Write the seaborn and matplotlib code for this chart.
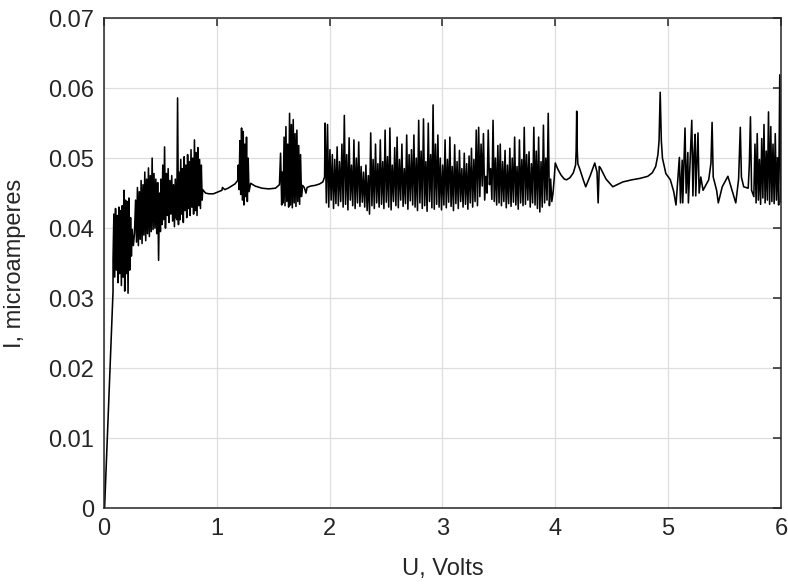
import numpy as np
import pandas as pd
import seaborn as sns
import matplotlib
matplotlib.use("Agg")
import matplotlib.pyplot as plt

# --- data (U in volts, I in microamperes) ---

# initial rise from the origin
rise_u = [0.005, 0.08]
rise_i = [0.0, 0.031]

# dense oscillation bands: (u_start, u_end) + values sampled evenly across the span
band_a_span = (0.08, 0.25)
band_a_i = [0.0355, 0.0420, 0.0330, 0.0428, 0.0340, 0.0418, 0.0322, 0.0430, 0.0335, 0.0425,
            0.0318, 0.0432, 0.0330, 0.0454, 0.0310, 0.0440, 0.0335, 0.0438, 0.0307, 0.0443,
            0.0340, 0.0415, 0.0360, 0.0398]

dip_u = [0.26, 0.27]
dip_i = [0.0375, 0.0392]

band_b1_span = (0.28, 0.50)
band_b1_i = [0.0440, 0.0380, 0.0458, 0.0375, 0.0452, 0.0384, 0.0468, 0.0378, 0.0462, 0.0390,
             0.0480, 0.0382, 0.0470, 0.0392, 0.0486, 0.0388, 0.0475, 0.0395, 0.0500, 0.0398,
             0.0478, 0.0400, 0.0470, 0.0392, 0.0465, 0.0354, 0.0450, 0.0395]

band_b2_span = (0.505, 0.64)
band_b2_i = [0.0470, 0.0405, 0.0490, 0.0412, 0.0516, 0.0400, 0.0478, 0.0418, 0.0485, 0.0408,
             0.0468, 0.0420, 0.0475, 0.0410, 0.0462, 0.0402, 0.0470, 0.0415]

spike1_u = [0.645, 0.652, 0.66]
spike1_i = [0.0412, 0.0586, 0.0405]

band_b3_span = (0.665, 0.87)
band_b3_i = [0.0480, 0.0412, 0.0498, 0.0420, 0.0485, 0.0408, 0.0502, 0.0425, 0.0490, 0.0415,
             0.0505, 0.0428, 0.0495, 0.0418, 0.0512, 0.0430, 0.0500, 0.0420, 0.0526, 0.0425,
             0.0508, 0.0418, 0.0515, 0.0432, 0.0498, 0.0428, 0.0490, 0.0440]

smooth1_u = [0.875, 0.90, 0.93, 0.97, 1.00, 1.03, 1.045, 1.05, 1.07, 1.10, 1.13, 1.16, 1.185]
smooth1_i = [0.0455, 0.0450, 0.0449, 0.0449, 0.0451, 0.0453, 0.0454, 0.0458, 0.0455, 0.0457,
             0.0460, 0.0463, 0.0468]

band_c_span = (1.19, 1.285)
band_c_i = [0.0490, 0.0455, 0.0525, 0.0448, 0.0543, 0.0440, 0.0538, 0.0433, 0.0520, 0.0445,
            0.0530, 0.0438, 0.0500, 0.0452]

smooth2_u = [1.30, 1.34, 1.40, 1.46, 1.52, 1.555, 1.565, 1.575]
smooth2_i = [0.0464, 0.0460, 0.0457, 0.0456, 0.0457, 0.0462, 0.0507, 0.0433]

band_d_span = (1.58, 1.75)
band_d_i = [0.0480, 0.0436, 0.0530, 0.0432, 0.0545, 0.0438, 0.0520, 0.0430, 0.0564, 0.0433,
            0.0548, 0.0429, 0.0555, 0.0436, 0.0535, 0.0431, 0.0540, 0.0438, 0.0518, 0.0434,
            0.0505, 0.0445]

smooth3_u = [1.76, 1.775, 1.79, 1.80, 1.83, 1.87, 1.91, 1.94, 1.955]
smooth3_i = [0.0461, 0.0458, 0.0450, 0.0458, 0.0460, 0.0461, 0.0463, 0.0466, 0.0473]

band_e_span = (1.96, 3.98)
band_e_i = [
    0.0550, 0.0436, 0.0548, 0.0430, 0.0512, 0.0440, 0.0505, 0.0428, 0.0498, 0.0435, 0.0516, 0.0432,
    0.0495, 0.0438, 0.0520, 0.0430, 0.0561, 0.0434, 0.0505, 0.0426, 0.0529, 0.0440, 0.0490, 0.0432,
    0.0526, 0.0428, 0.0500, 0.0436, 0.0523, 0.0431, 0.0488, 0.0437,
    0.0480, 0.0430, 0.0490, 0.0425, 0.0475, 0.0420, 0.0536, 0.0432, 0.0498, 0.0428, 0.0520, 0.0436,
    0.0492, 0.0430,
    0.0526, 0.0434, 0.0495, 0.0428, 0.0540, 0.0437, 0.0502, 0.0430, 0.0543, 0.0426, 0.0490, 0.0438,
    0.0515, 0.0432, 0.0530, 0.0429, 0.0498, 0.0440, 0.0520, 0.0431, 0.0485, 0.0435, 0.0533, 0.0427,
    0.0505, 0.0439, 0.0512, 0.0433,
    0.0533, 0.0430, 0.0500, 0.0425, 0.0554, 0.0436, 0.0510, 0.0428, 0.0556, 0.0432, 0.0495, 0.0424,
    0.0550, 0.0438, 0.0505, 0.0429, 0.0576, 0.0427, 0.0520, 0.0434, 0.0533, 0.0430,
    0.0500, 0.0426, 0.0490, 0.0433, 0.0526, 0.0429, 0.0498, 0.0437, 0.0530, 0.0431, 0.0488, 0.0425,
    0.0519, 0.0435, 0.0495, 0.0428, 0.0511, 0.0438, 0.0485, 0.0430, 0.0507, 0.0434, 0.0492, 0.0427,
    0.0503,
    0.0436, 0.0514, 0.0430, 0.0498, 0.0438, 0.0540, 0.0432, 0.0544, 0.0445, 0.0520, 0.0460, 0.0535,
    0.0440, 0.0474, 0.0450, 0.0540, 0.0462, 0.0485, 0.0441, 0.0554, 0.0438, 0.0500, 0.0433, 0.0518,
    0.0436,
    0.0520, 0.0432, 0.0495, 0.0438, 0.0511, 0.0429, 0.0490, 0.0435, 0.0514, 0.0431, 0.0500, 0.0437,
    0.0530, 0.0433, 0.0488, 0.0427, 0.0526, 0.0436, 0.0498, 0.0432, 0.0544, 0.0434, 0.0505, 0.0440,
    0.0509, 0.0430, 0.0492, 0.0436,
    0.0544, 0.0433, 0.0510, 0.0428, 0.0530, 0.0423, 0.0495, 0.0430, 0.0547, 0.0436, 0.0500, 0.0440,
    0.0564, 0.0432, 0.0470, 0.0438, 0.0450,
]

# resonance peaks between 4 and 5 V
peaks_u = [3.99, 4.00, 4.02, 4.05, 4.08, 4.10, 4.13, 4.16, 4.18, 4.185, 4.19, 4.195, 4.20, 4.22,
           4.25, 4.27, 4.31, 4.35, 4.37, 4.38, 4.39, 4.40, 4.45, 4.51, 4.56, 4.60, 4.68, 4.75,
           4.82, 4.86, 4.89, 4.91, 4.92, 4.93, 4.94, 4.95, 4.98, 5.02, 5.05, 5.07]
peaks_i = [0.0470, 0.0493, 0.0485, 0.0476, 0.0470, 0.0469, 0.0472, 0.0479, 0.0490, 0.0510,
           0.0567, 0.0510, 0.0492, 0.0483, 0.0468, 0.0459, 0.0475, 0.0493, 0.0480, 0.0436,
           0.0488, 0.0486, 0.0470, 0.0459, 0.0463, 0.0466, 0.0469, 0.0471, 0.0474, 0.0479,
           0.0488, 0.0505, 0.0525, 0.0594, 0.0525, 0.0500, 0.0478, 0.0469, 0.0452, 0.0433]

band_f_u = [5.10, 5.11, 5.125, 5.13, 5.15, 5.16, 5.175, 5.18, 5.21, 5.22, 5.23, 5.24, 5.245,
            5.265, 5.275, 5.29, 5.31, 5.36, 5.38, 5.39, 5.40, 5.43, 5.445, 5.48, 5.53, 5.60,
            5.625, 5.64, 5.65, 5.67, 5.71, 5.72, 5.73, 5.74]
band_f_i = [0.0501, 0.0436, 0.0497, 0.0436, 0.0543, 0.0450, 0.0508, 0.0436, 0.0554, 0.0446,
            0.0508, 0.0534, 0.0446, 0.0536, 0.0450, 0.0473, 0.0454, 0.0469, 0.0493, 0.0551,
            0.0473, 0.0454, 0.0436, 0.0459, 0.0474, 0.0436, 0.0470, 0.0544, 0.0473, 0.0459,
            0.0457, 0.0490, 0.0559, 0.0454]

band_g_span = (5.76, 6.0)
band_g_i = [0.0445, 0.0520, 0.0436, 0.0535, 0.0440, 0.0498, 0.0434, 0.0528, 0.0443, 0.0548,
            0.0436, 0.0510, 0.0440, 0.0566, 0.0434, 0.0545, 0.0438, 0.0520, 0.0435, 0.0535,
            0.0440, 0.0500, 0.0433, 0.0619, 0.0437]


def band(span, vals):
    return list(np.linspace(span[0], span[1], len(vals))), list(vals)


pieces = [
    (rise_u, rise_i),
    band(band_a_span, band_a_i),
    (dip_u, dip_i),
    band(band_b1_span, band_b1_i),
    band(band_b2_span, band_b2_i),
    (spike1_u, spike1_i),
    band(band_b3_span, band_b3_i),
    (smooth1_u, smooth1_i),
    band(band_c_span, band_c_i),
    (smooth2_u, smooth2_i),
    band(band_d_span, band_d_i),
    (smooth3_u, smooth3_i),
    band(band_e_span, band_e_i),
    (peaks_u, peaks_i),
    (band_f_u, band_f_i),
    band(band_g_span, band_g_i),
]
U = sum([p[0] for p in pieces], [])
I = sum([p[1] for p in pieces], [])
df = pd.DataFrame({"U": U, "I": I})

# --- plot ---
sns.set_theme(style="white")
plt.rcParams["font.family"] = ["Liberation Sans", "DejaVu Sans"]
dark = "#262626"

fig = plt.figure(figsize=(7.88, 5.84), dpi=100)
ax = fig.add_axes([0.132, 0.130, 0.859, 0.839])
sns.lineplot(data=df, x="U", y="I", sort=False, estimator=None, color="black",
             linewidth=1.15, ax=ax)

ax.set_xlim(0, 6)
ax.set_ylim(0, 0.07)
ax.set_xticks(range(0, 7))
ax.set_yticks([0, 0.01, 0.02, 0.03, 0.04, 0.05, 0.06, 0.07])
ax.set_yticklabels(["0", "0.01", "0.02", "0.03", "0.04", "0.05", "0.06", "0.07"])
ax.grid(True, color="#dedede", linewidth=0.9)
ax.set_axisbelow(True)
for s in ax.spines.values():
    s.set_color(dark)
    s.set_linewidth(1.1)
ax.tick_params(direction="in", length=6, width=1.1, color=dark, labelcolor=dark,
               labelsize=17, top=True, right=True, pad=7)
ax.set_xlabel("U, Volts", fontsize=17, color=dark, labelpad=13)
ax.set_ylabel("I, microamperes", fontsize=17, color=dark, labelpad=16)

fig.savefig("out.png", dpi=100)
